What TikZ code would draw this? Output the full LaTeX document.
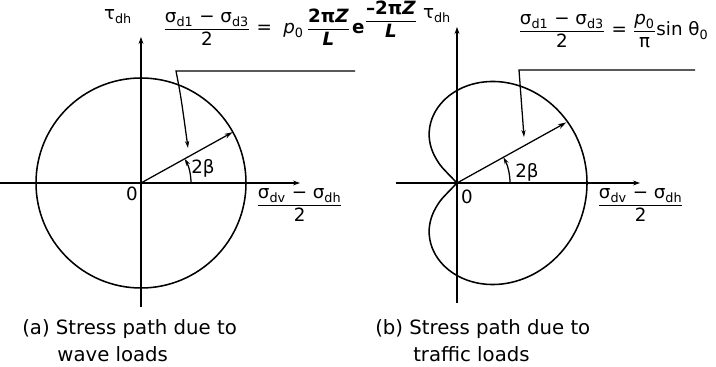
\documentclass[tikz,border=0pt]{standalone}
\usepackage{amsmath}
\usepackage{fontspec}
\setmainfont{DejaVu Sans}
\usepackage{tikz}
\usetikzlibrary{arrows.meta}
\newcommand{\sgm}[1]{σ\textsubscript{#1}}
\newcommand{\ratio}[2]{\ensuremath{\dfrac{\text{#1}}{\text{#2}}}}

\begin{document}
\begin{tikzpicture}[x=0.025cm, y=0.025cm, inner sep=0pt,
    font=\fontsize{13}{19}\selectfont,
    axisline/.style={line width=0.8pt, -{Stealth[length=5pt, width=3.5pt]}},
    stresspath/.style={line width=1.1pt},
    radline/.style={line width=0.9pt, -{Stealth[length=6pt, width=3.5pt]}},
    leader/.style={line width=0.9pt, -{Stealth[length=5pt, width=3pt]}},
    caption/.style={anchor=north west, align=left, font=\fontsize{14}{19.5}\selectfont}]
\useasboundingbox (0,0) rectangle (716,367);

\coordinate (Oa) at (141,184);
\coordinate (xa0) at (0,184);   \coordinate (xa1) at (300,184);
\coordinate (ya0) at (141,60);  \coordinate (ya1) at (141,330);
\draw[axisline] (xa0) -- (xa1);
\draw[axisline] (ya0) -- (ya1);
\draw[stresspath] (Oa) circle (105);
\path (Oa) ++(29:105) coordinate (Ra);
\draw[radline] (Oa) -- (Ra);
\draw[leader] ([shift={(50,0)}]Oa) arc[start angle=0, end angle=29, radius=50];
\coordinate (la0) at (355,296); \coordinate (la1) at (176,296); \coordinate (la2) at (188,219);
\draw[leader] (la0) -- (la1) .. controls (181,270) .. (la2);

\node (tauA) at (118,350) {τ\textsubscript{dh}};
\node[anchor=base west] (eqA) at (163,333)
     {\ratio{\sgm{d1} − \sgm{d3}}{2} = \hspace{4pt}\textit{p}\textsubscript{0}\hspace{2pt}\ratio{\textbf{2π\textit{Z}}}{\textbf{\textit{L}}}\hspace{1pt}\textbf{e}\raisebox{6pt}{\ratio{\textbf{–2π\textit{Z}}}{\textbf{\textit{L}}}}};
\node (zeroA) at (132,173) {0};
\node (betaA) at (203,199) {2β};
\node[anchor=base west] (sigA) at (256,157) {\ratio{\sgm{dv} − \sgm{dh}}{2}};
\node[caption] (capA) at (22,48) {(a) Stress path due to\\\hspace*{25pt}wave loads};

\coordinate (Ob) at (457,184);
\coordinate (xb0) at (396,184); \coordinate (xb1) at (640,184);
\coordinate (yb0) at (457,64);  \coordinate (yb1) at (457,340);
\draw[axisline] (xb0) -- (xb1);
\draw[axisline] (yb0) -- (yb1);
\draw[stresspath, shift={(Ob)}] plot[variable=\t, domain=-136:136, samples=121, smooth]
  ({130*sqrt(abs(cos(\t*90/136)))*cos(\t)}, {130*sqrt(abs(cos(\t*90/136)))*sin(\t)});
\path (Ob) ++(29:125) coordinate (Rb);
\draw[radline] (Ob) -- (Rb);
\draw[leader] ([shift={(53,0)}]Ob) arc[start angle=0, end angle=29, radius=53];
\coordinate (lb0) at (695,297); \coordinate (lb1) at (519,297); \coordinate (lb2) at (524,230);
\draw[leader] (lb0) -- (lb1) -- (lb2);

\node (tauB) at (437,351) {τ\textsubscript{dh}};
\node[anchor=base west] (eqB) at (518,331)
     {\ratio{\sgm{d1} − \sgm{d3}}{2} = \ratio{\textit{p}\textsubscript{0}}{π}sin θ\textsubscript{0}};
\node (zeroB) at (467,170) {0};
\node (betaB) at (527,195) {2β};
\node[anchor=base west] (sigB) at (597,157) {\ratio{\sgm{dv} − \sgm{dh}}{2}};
\node[caption] (capB) at (375,48) {(b) Stress path due to\\\hspace*{27pt}traffic loads};
\end{tikzpicture}
\end{document}
